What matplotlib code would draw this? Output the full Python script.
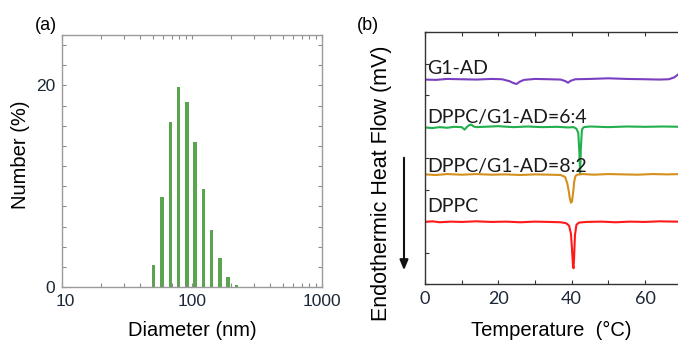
import matplotlib
matplotlib.use("Agg")
import matplotlib.pyplot as plt
from matplotlib.ticker import FixedLocator, MultipleLocator, LogLocator, NullFormatter, FixedFormatter
from matplotlib.transforms import ScaledTranslation
import numpy as np

# ---- (a) DLS size distribution ----
diameter_nm = [50.7, 58.8, 68.1, 78.8, 91.3, 105.7, 122.4, 141.8, 164.2, 190.1, 220.2]
number_pct = [2.2, 8.9, 16.4, 19.8, 18.4, 14.4, 9.7, 5.7, 2.9, 1.0, 0.15]

# ---- (b) DSC thermograms (offset traces) ----
dppc_T = [0, 2, 4, 7, 10, 14, 18, 22, 26, 30, 34, 37, 38.5, 39.3, 39.8, 40.1, 40.35,
          40.5, 40.65, 40.9, 41.3, 42, 44, 48, 52, 56, 60, 64, 68, 70]
dppc_y = [1.97, 1.99, 1.96, 1.98, 1.97, 1.99, 1.97, 1.98, 1.96, 1.98, 1.97, 1.96, 1.93,
          1.85, 1.6, 1.1, 0.6, 0.5, 0.8, 1.55, 1.88, 1.95, 1.97, 1.98, 1.96, 1.98, 1.97,
          1.99, 1.98, 1.98]

mix82_T = [0, 3, 6, 10, 14, 18, 22, 26, 30, 34, 37, 38.2, 38.8, 39.2, 39.5, 39.8, 40.1,
           40.4, 40.7, 41.0, 41.5, 43, 46, 50, 54, 58, 62, 66, 70]
mix82_y = [3.48, 3.46, 3.49, 3.47, 3.49, 3.47, 3.48, 3.46, 3.48, 3.47, 3.46, 3.40, 3.2,
           2.95, 2.72, 2.58, 2.62, 2.9, 3.25, 3.42, 3.47, 3.49, 3.47, 3.49, 3.48, 3.47,
           3.49, 3.48, 3.49]

mix64_T = [0, 2, 4, 6, 8, 10, 10.8, 11.3, 12, 12.6, 13.3, 14, 16, 20, 24, 28, 32, 36, 39,
           40.5, 41.3, 41.8, 42.1, 42.3, 42.5, 42.8, 43.3, 45, 50, 55, 60, 65, 70]
mix64_y = [4.97, 4.95, 4.98, 4.96, 4.99, 4.98, 4.90, 4.97, 5.04, 5.06, 5.0, 4.98, 4.99,
           5.01, 4.98, 5.0, 4.98, 4.99, 4.97, 4.98, 4.93, 4.8, 4.2, 3.51, 4.3, 4.9, 4.98,
           5.0, 4.98, 5.0, 4.99, 5.0, 4.99]

g1ad_T = [0, 3, 6, 10, 14, 18, 21, 23, 24.3, 25, 25.8, 27, 30, 34, 37, 38.3, 39, 39.7,
          41, 45, 50, 55, 60, 64, 66.5, 68, 69, 70]
g1ad_y = [6.49, 6.48, 6.51, 6.50, 6.49, 6.51, 6.50, 6.44, 6.37, 6.35, 6.42, 6.48, 6.51,
          6.50, 6.49, 6.44, 6.39, 6.45, 6.50, 6.51, 6.53, 6.51, 6.50, 6.49, 6.50, 6.56,
          6.65, 6.72]

trace_labels = ["G1-AD", "DPPC/G1-AD=6:4", "DPPC/G1-AD=8:2", "DPPC"]
label_y = [6.67, 5.12, 3.57, 2.28]
trace_colors = ["#7a3fc0", "#22b04c", "#d4901c", "#ff1a1a"]

W, H = 678, 342
fig = plt.figure(figsize=(W / 100, H / 100), dpi=100)

def box(x0, y0, x1, y1):
    # pixel box (top-left origin) -> figure fraction rect
    return [x0 / W, 1 - y1 / H, (x1 - x0) / W, (y1 - y0) / H]

arial = "Liberation Sans"
calibri = "Lato"
tick_col = "#1c2838"

# ---------------- panel (a) ----------------
axa = fig.add_axes(box(62, 35, 322, 287))
axa.set_xscale("log")
axa.set_xlim(10, 1000)
axa.set_ylim(0, 25)
half = 10 ** 0.0135
widths = [d * half - d / half for d in diameter_nm]
axa.bar(diameter_nm, number_pct, width=widths, color="#5ba44f", align="center")

for s in axa.spines.values():
    s.set_color("#9a9a9a")
    s.set_linewidth(1.0)
axa.yaxis.set_major_locator(FixedLocator([0, 20]))
axa.yaxis.set_minor_locator(MultipleLocator(2))
axa.xaxis.set_major_locator(FixedLocator([10, 100, 1000]))
axa.xaxis.set_minor_locator(LogLocator(base=10, subs=np.arange(2, 10)))
axa.xaxis.set_major_formatter(FixedFormatter(["10", "100", "1000"]))
axa.xaxis.set_minor_formatter(NullFormatter())
axa.tick_params(which="both", direction="in", top=True, right=True,
                length=3, width=0.8, color="#8a8a8a",
                labelsize=12.5, labelcolor=tick_col)
axa.tick_params(axis="x", which="major", pad=5)
axa.tick_params(axis="y", which="major", pad=5)
for lab in axa.get_xticklabels() + axa.get_yticklabels():
    lab.set_fontfamily(arial)
# nudge the "10" label so it clears the "0" label at the corner
xl = axa.get_xticklabels()
xl[0].set_transform(xl[0].get_transform() + ScaledTranslation(3 / 100, 0, fig.dpi_scale_trans))

fig.text(46 / W, 1 - 25 / H, "(a)", fontsize=13, family=arial, ha="center", va="center")
fig.text(21 / W, 1 - 155 / H, "Number (%)", fontsize=14.5, family=arial,
         rotation=90, ha="center", va="center")
fig.text(192 / W, 1 - 330 / H, "Diameter (nm)", fontsize=14.5, family=arial,
         ha="center", va="center")

# ---------------- panel (b) ----------------
x_right = 425 + 70 * (73.33 / 20)
axb = fig.add_axes(box(425, 32, x_right, 284))
axb.set_xlim(0, 70)
axb.set_ylim(0, 8)
traces = [(g1ad_T, g1ad_y), (mix64_T, mix64_y), (mix82_T, mix82_y), (dppc_T, dppc_y)]
for (T, y), c in zip(traces, trace_colors):
    axb.plot(T, y, color=c, lw=1.5, solid_joinstyle="round")
for txt, yy in zip(trace_labels, label_y):
    axb.text(0.5, yy, txt, fontsize=14, family=calibri, color="#1a1a1a",
             ha="left", va="baseline")

for s in axb.spines.values():
    s.set_color("#333333")
    s.set_linewidth(1.0)
axb.xaxis.set_major_locator(MultipleLocator(20))
axb.xaxis.set_minor_locator(MultipleLocator(10))
axb.yaxis.set_major_locator(MultipleLocator(1))
axb.yaxis.set_major_formatter(NullFormatter())
axb.tick_params(which="both", direction="in", top=True, right=False,
                length=3, width=0.8, color="#333333",
                labelsize=13, labelcolor=tick_col)
axb.tick_params(axis="x", which="major", pad=5)
for lab in axb.get_xticklabels():
    lab.set_fontfamily(calibri)

fig.text(367.5 / W, 1 - 25 / H, "(b)", fontsize=13, family=arial, ha="center", va="center")
fig.text(381.5 / W, 1 - 183.5 / H, "Endothermic Heat Flow (mV)", fontsize=15.5,
         family=arial, rotation=90, ha="center", va="center")
fig.text(551.5 / W, 1 - 330 / H, "Temperature  (\u00b0C)", fontsize=14.5, family=arial,
         ha="center", va="center")
fig.add_artist(matplotlib.patches.FancyArrowPatch(
    (404 / W, 1 - 155 / H), (404 / W, 1 - 273 / H), transform=fig.transFigure,
    arrowstyle="-|>,head_length=6,head_width=2.5", mutation_scale=1,
    color="#111111", lw=1.5))

fig.savefig("out.png", dpi=100)
